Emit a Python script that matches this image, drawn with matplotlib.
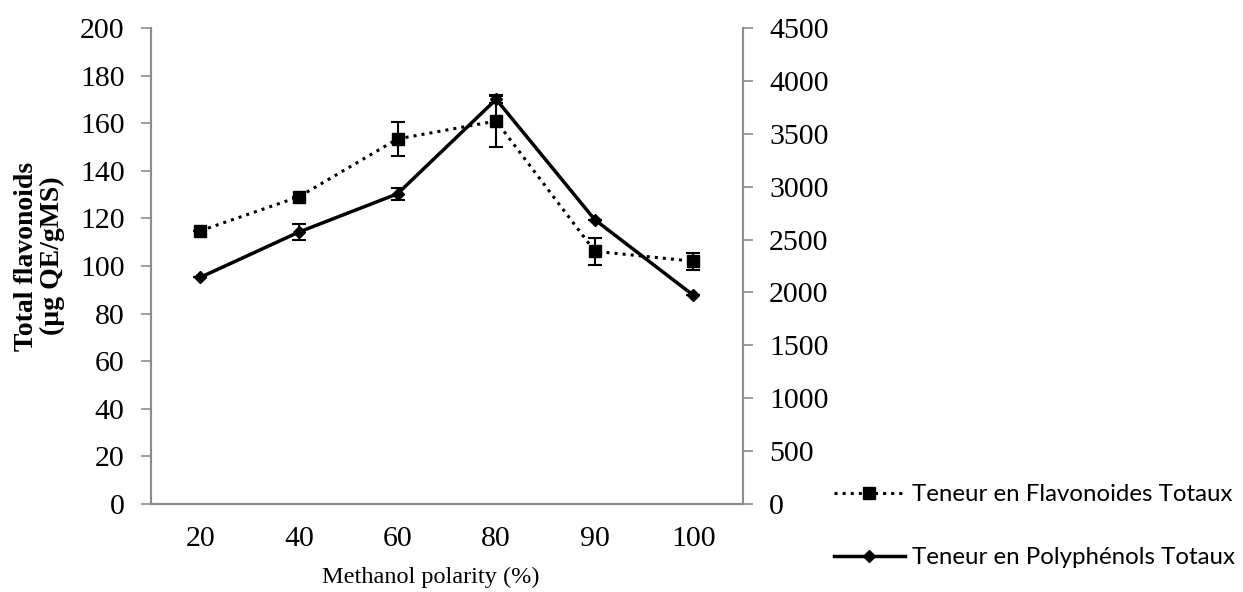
import numpy as np
import matplotlib.pyplot as plt

# Methanol polarity categories
polarity = ["20", "40", "60", "80", "90", "100"]

# Total flavonoids (left axis) and std errors
flavonoids = [114.8, 129.1, 153.4, 160.9, 106.2, 102.0]
flavonoids_err = [0, 0, 7.3, 10.7, 5.7, 3.5]

# Total polyphenols (right axis) and std errors
polyphenols = [2143, 2571, 2933, 3826, 2688, 1973]
polyphenols_err = [0, 75, 57, 38, 0, 0]

serif = "Liberation Serif"
gray = "#8c8c8c"

fig = plt.figure(figsize=(12.43, 5.92), dpi=100)
ax = fig.add_axes([0.1215, 0.1486, 0.476, 0.8041])
ax2 = ax.twinx()

x = np.arange(len(polarity)) + 0.5

ax.errorbar(x, flavonoids, yerr=flavonoids_err, fmt="none", ecolor="black",
            capsize=5, elinewidth=1.5, capthick=1.5)
ax.plot(x, flavonoids, color="black", linestyle=":", linewidth=2.2, marker="s",
        markersize=9, label="Teneur en Flavonoides Totaux")
ax2.errorbar(x, polyphenols, yerr=polyphenols_err, fmt="none", ecolor="black",
             capsize=5, elinewidth=1.5, capthick=1.5)
ax2.plot(x, polyphenols, color="black", linestyle="-", linewidth=2.5, marker="D",
         markersize=6.5, label="Teneur en Polyphénols Totaux")

ax.set_xlim(0, 6)
ax.set_ylim(0, 200)
ax.set_yticks(np.arange(0, 201, 20))
ax2.set_ylim(0, 4500)
ax2.set_yticks(np.arange(0, 4501, 500))
ax.set_xticks(x)
ax.set_xticklabels(polarity)

for a in (ax, ax2):
    a.spines["top"].set_visible(False)
    for s in ("left", "right", "bottom"):
        a.spines[s].set_color(gray)
        a.spines[s].set_linewidth(1.5)
    a.tick_params(axis="y", colors=gray, length=7, width=1.2, labelcolor="black",
                  labelsize=21.5, pad=12)
    for lbl in a.get_yticklabels():
        lbl.set_fontfamily(serif)
ax.tick_params(axis="x", length=0, labelsize=21.5, pad=16)
for lbl in ax.get_xticklabels():
    lbl.set_fontfamily(serif)

ax.set_ylabel("Total flavonoids\n(µg QE/gMS)", fontfamily=serif, fontsize=20,
              fontweight="bold", linespacing=1.05)
ax.yaxis.set_label_coords(-0.145, 0.521)
ax.set_xlabel("Methanol polarity (%)", fontfamily=serif, fontsize=17.5)
ax.xaxis.set_label_coords(0.473, -0.132)

h1, l1 = ax.get_legend_handles_labels()
h2, l2 = ax2.get_legend_handles_labels()
fig.legend(h1 + h2, l1 + l2, loc="center left", bbox_to_anchor=(0.671, 0.111),
           frameon=False, prop={"family": "Lato", "size": 17.3}, labelspacing=1.75,
           handlelength=2.95, handletextpad=0.3, borderaxespad=0, borderpad=0)

fig.savefig("out.png", dpi=100)
